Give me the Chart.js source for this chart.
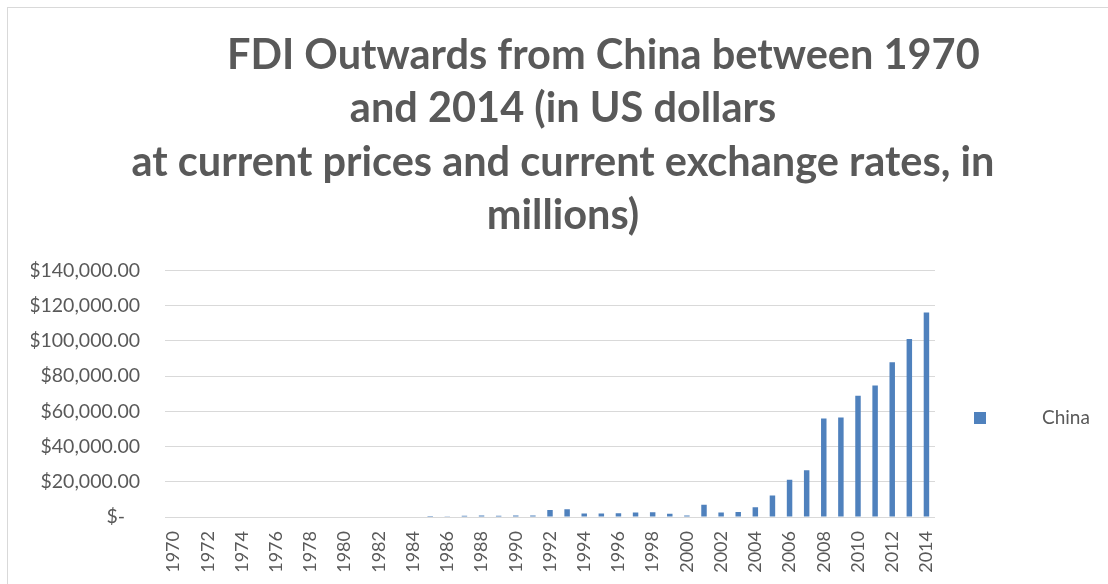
<!DOCTYPE html>
<html>
<head>
<meta charset="utf-8">
<script src="https://cdn.jsdelivr.net/npm/chart.js@4"></script>
<style>
  html, body { margin: 0; padding: 0; background: #fff; overflow: hidden; }
  #wrap { position: relative; width: 1108px; height: 584px; }
  #frame { position: absolute; left: 7px; top: 7px; width: 1200px; height: 700px;
           border-left: 1px solid #d9d9d9; border-top: 1px solid #d9d9d9; }
  #fdiChart { position: absolute; left: 0; top: 0; }
</style>
</head>
<body>
<div id="wrap">
  <div id="frame"></div>
  <canvas id="fdiChart" width="1108" height="584"></canvas>
</div>
<script>
const years = ['1970','1971','1972','1973','1974','1975','1976','1977','1978','1979',
  '1980','1981','1982','1983','1984','1985','1986','1987','1988','1989',
  '1990','1991','1992','1993','1994','1995','1996','1997','1998','1999',
  '2000','2001','2002','2003','2004','2005','2006','2007','2008','2009',
  '2010','2011','2012','2013','2014'];

// millions of US dollars
const chinaFdi = [0,0,0,0,0,0,0,0,0,0,
  0,0,0,0,0,629,450,645,850,780,
  830,913,4000,4400,2000,2000,2114,2562,2634,1775,
  916,6885,2518,2855,5498,12261,21160,26510,55910,56530,
  68811,74654,87804,101000,116000];

const titleLines = [
  '        FDI Outwards from China between 1970',
  'and 2014 (in US dollars',
  'at current prices and current exchange rates, in',
  'millions)'
];

const seriesName = 'China';
const barColor = '#4F81BD';
const textColor = '#595959';
const fontFamily = 'Lato, "Open Sans", sans-serif';

function money(v) {
  if (v === 0) return '$-   ';
  return '$' + v.toLocaleString('en-US', { minimumFractionDigits: 2, maximumFractionDigits: 2 });
}

// legend drawn by hand so it sits where Excel put it
const sideLegend = {
  id: 'sideLegend',
  afterDraw(chart) {
    const ctx = chart.ctx;
    ctx.save();
    ctx.fillStyle = barColor;
    ctx.fillRect(974, 412, 12, 12);
    ctx.fillStyle = textColor;
    ctx.font = '19px ' + fontFamily;
    ctx.textBaseline = 'middle';
    ctx.textAlign = 'left';
    ctx.fillText(chart.data.datasets[0].label, 1042, 418);
    ctx.restore();
  }
};

new Chart(document.getElementById('fdiChart'), {
  type: 'bar',
  data: {
    labels: years,
    datasets: [{
      label: seriesName,
      data: chinaFdi,
      backgroundColor: barColor,
      borderWidth: 0,
      categoryPercentage: 1,
      barPercentage: 0.32
    }]
  },
  options: {
    responsive: false,
    animation: false,
    layout: { padding: { left: 31, right: 13, top: 0, bottom: 0 } },
    plugins: {
      legend: { display: false },
      tooltip: { enabled: false },
      title: {
        display: true,
        text: titleLines,
        color: textColor,
        font: { family: fontFamily, size: 41.5, weight: 'bold', lineHeight: 1.285 },
        padding: { top: 29, bottom: 28 }
      }
    },
    scales: {
      x: {
        grid: { display: false },
        border: { display: false },
        ticks: {
          autoSkip: false,
          maxRotation: 90,
          minRotation: 90,
          padding: 6,
          color: textColor,
          font: { family: fontFamily, size: 18 },
          callback: function (val, idx) { return idx % 2 === 0 ? years[idx] : ''; }
        },
        afterFit: function (scale) { scale.height = 67; }
      },
      y: {
        min: 0,
        max: 140000,
        border: { display: false },
        grid: { color: '#d9d9d9', drawTicks: false },
        ticks: {
          stepSize: 20000,
          padding: 25,
          color: textColor,
          font: { family: fontFamily, size: 19.5 },
          callback: function (v) { return money(v); }
        },
        afterFit: function (scale) { scale.width = 134; }
      },
      // empty right-hand axis that keeps room for the legend
      legendRoom: {
        position: 'right',
        display: true,
        grid: { display: false },
        border: { display: false },
        ticks: { display: false },
        afterFit: function (scale) { scale.width = 160; }
      }
    }
  },
  plugins: [sideLegend]
});
</script>
</body>
</html>
